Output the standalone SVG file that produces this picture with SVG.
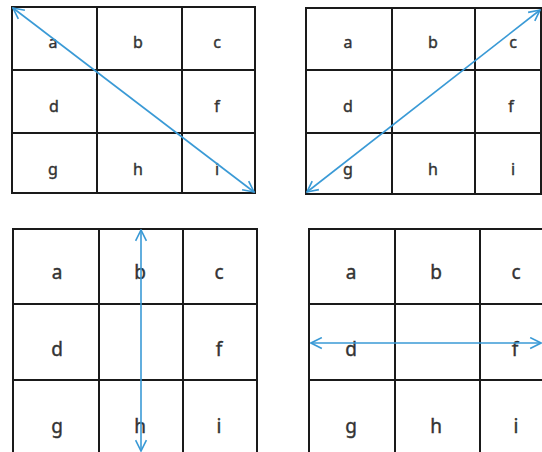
<svg xmlns="http://www.w3.org/2000/svg" width="542" height="452" viewBox="0 0 542 452">
<defs>
<style>
.g line, .g rect{stroke:#1a1a1a;stroke-width:2;fill:none}
.t{font-family:"Noto Sans","Liberation Sans",sans-serif;fill:#333;stroke:#333;stroke-width:0.4;text-anchor:middle}
.s{font-size:16px}
.l{font-size:19px}
.arr{stroke:#3a9ad6;stroke-width:1.6;fill:none;marker-start:url(#ah);marker-end:url(#ah)}
</style>
<marker id="ah" viewBox="0 0 12 12" refX="11" refY="6" markerWidth="13" markerHeight="13" markerUnits="userSpaceOnUse" orient="auto-start-reverse">
<path d="M1,1 L11,6 L1,11" stroke="#3a9ad6" stroke-width="1.5" fill="none"/>
</marker>
</defs>
<rect width="542" height="452" fill="#fff"/>

<g id="grid1" class="g">
<rect x="12" y="7" width="243" height="186"/>
<line x1="97" y1="7" x2="97" y2="193"/><line x1="182" y1="7" x2="182" y2="193"/>
<line x1="12" y1="70" x2="255" y2="70"/><line x1="12" y1="133" x2="255" y2="133"/>
<g class="t s">
<text x="53" y="48">a</text><text x="138" y="48">b</text><text x="217" y="48">c</text>
<text x="54" y="112">d</text><text x="217" y="112">f</text>
<text x="53" y="175">g</text><text x="138" y="175">h</text><text x="217" y="175">i</text>
</g>
</g>

<g id="grid2" class="g">
<rect x="306" y="8" width="235" height="186"/>
<line x1="392" y1="8" x2="392" y2="194"/><line x1="475" y1="8" x2="475" y2="194"/>
<line x1="306" y1="70" x2="541" y2="70"/><line x1="306" y1="133" x2="541" y2="133"/>
<g class="t s">
<text x="348" y="48">a</text><text x="433" y="48">b</text><text x="513" y="48">c</text>
<text x="348" y="112">d</text><text x="511" y="112">f</text>
<text x="348" y="175">g</text><text x="433" y="175">h</text><text x="513" y="175">i</text>
</g>
</g>

<g id="grid3" class="g">
<rect x="13" y="229" width="244" height="240"/>
<line x1="99" y1="229" x2="99" y2="460"/><line x1="183" y1="229" x2="183" y2="460"/>
<line x1="13" y1="304" x2="257" y2="304"/><line x1="13" y1="380" x2="257" y2="380"/>
<g class="t l">
<text x="57" y="279">a</text><text x="140" y="279">b</text><text x="219" y="279">c</text>
<text x="57" y="356">d</text><text x="219" y="356">f</text>
<text x="57" y="433">g</text><text x="140" y="433">h</text><text x="219" y="433">i</text>
</g>
</g>

<g id="grid4" class="g">
<rect x="309" y="229" width="240" height="240"/>
<line x1="395" y1="229" x2="395" y2="460"/><line x1="480" y1="229" x2="480" y2="460"/>
<line x1="309" y1="304" x2="549" y2="304"/><line x1="309" y1="380" x2="549" y2="380"/>
<g class="t l">
<text x="351" y="279">a</text><text x="436" y="279">b</text><text x="516" y="279">c</text>
<text x="351" y="356">d</text><text x="515" y="356">f</text>
<text x="351" y="433">g</text><text x="436" y="433">h</text><text x="516" y="433">i</text>
</g>
</g>

<g id="connectors">
<line class="arr" x1="13" y1="8" x2="254" y2="192"/>
<line class="arr" x1="540" y1="10" x2="307" y2="192"/>
<line class="arr" x1="141" y1="230" x2="141" y2="451"/>
<line class="arr" x1="311" y1="343" x2="541" y2="343"/>
</g>
</svg>
